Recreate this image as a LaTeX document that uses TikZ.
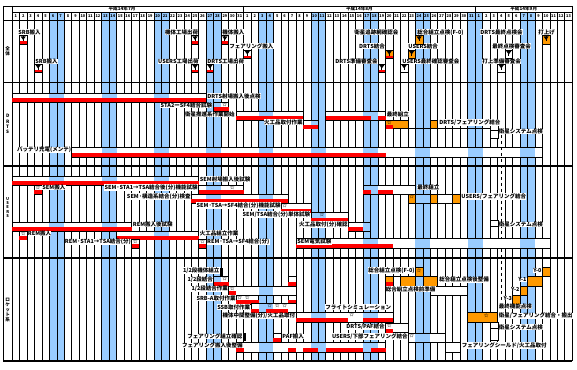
\documentclass[tikz,border=0pt]{standalone}
\usepackage{fontspec}
\setmainfont{Noto Sans CJK JP}
\definecolor{wkb}{RGB}{153,204,255}
\definecolor{org}{RGB}{255,153,0}
\definecolor{rd}{RGB}{255,0,0}
\newcount\stn
\newcommand\XX[1]{12+7.47*(#1)}
\newcommand\wkfill[2]{\foreach \k in {5,12,...,68}{\fill[wkb] ({\XX{\k}},#1) rectangle ({\XX{\k+2}},#2);}}
\newcommand\gbar[4]{%
  \fill[white] ({\XX{#1}},#3) rectangle ({\XX{#2}},#4);
  \begin{scope}\clip ({\XX{#1}},#3) rectangle ({\XX{#2}},#4);\wkfill{#3}{#4}\end{scope}
  \draw[ol] ({\XX{#1}},#3) rectangle ({\XX{#2}},#4);}
\newcommand\prog[3]{\fill[rd] ({\XX{#1}},{#3-3.6}) rectangle ({\XX{#2}},#3);}
\newcommand\obar[4]{\fill[org] ({\XX{#1}},#3) rectangle ({\XX{#2}},#4);\draw[ol] ({\XX{#1}},#3) rectangle ({\XX{#2}},#4);}
\newcommand\flagtri[2]{\fill[black] ({\XX{#1}+1.2},{#2+1}) -- ({\XX{#1}+6.27},{#2+1}) -- ({\XX{#1}+3.735},{#2+4.5}) -- cycle;
  \draw[black,line width=0.9pt] ({\XX{#1}+3.735},{#2+1}) -- ({\XX{#1}+3.735},{#2+6});}
\newcommand\msw[2]{\fill[white] ({\XX{#1}},#2) rectangle ({\XX{#1+1}},{#2+8.6});
  \fill[rd] ({\XX{#1}},{#2+5.6}) rectangle ({\XX{#1+1}},{#2+8.6});
  \flagtri{#1}{#2}\draw[ol] ({\XX{#1}},#2) rectangle ({\XX{#1+1}},{#2+8.6});}
\newcommand\mswn[2]{\fill[white] ({\XX{#1}},#2) rectangle ({\XX{#1+1}},{#2+8.6});
  \flagtri{#1}{#2}\draw[ol] ({\XX{#1}},#2) rectangle ({\XX{#1+1}},{#2+8.6});}
\newcommand\mso[2]{\fill[org] ({\XX{#1}},#2) rectangle ({\XX{#1+1}},{#2+8.6});
  \flagtri{#1}{#2}\draw[ol] ({\XX{#1}},#2) rectangle ({\XX{#1+1}},{#2+8.6});}
\newcommand\stc[2]{\global\advance\stn by 1\relax\node[stt] (st\the\stn) at ({\XX{#1}+3.735},#2) {☆};}
\newcommand\cellpair[2]{\filldraw[fill=white,draw=black,line width=0.6pt] (490,#1) rectangle (498,{#1+6}) (490,{#1+6}) rectangle (498,#2);}
\tikzset{
  ol/.style={draw=black,line width=0.6pt},
  grid/.style={black,line width=0.6pt},
  sepl/.style={black,line width=1.7pt},
  lbl/.style={font=\fontsize{5.5}{6}\selectfont\bfseries,inner sep=0.25pt,fill=white},
  stt/.style={font=\fontsize{4.8}{5}\selectfont\bfseries,inner sep=0pt},
  dnum/.style={font=\fontsize{3.9}{4}\selectfont\bfseries,inner sep=0pt},
  mon/.style={font=\fontsize{4.6}{5}\selectfont\bfseries,inner sep=0pt},
  sect/.style={font=\fontsize{4.6}{5.2}\selectfont\bfseries,inner sep=0pt,align=center}
}
\begin{document}
\begin{tikzpicture}[x=1pt,y=-1pt]
\useasboundingbox (0,0) rectangle (577,369);
\fill[white] (0,0) rectangle (577,369);
% weekend columns
\wkfill{12}{361}
% grid
\foreach \i in {0,...,75}{\draw[grid] ({\XX{\i}},12) -- ({\XX{\i}},361);}
\draw[grid] ({\XX{0}},6) -- ({\XX{0}},12);
\draw[grid] ({\XX{31}},6) -- ({\XX{31}},12);
\draw[grid] ({\XX{62}},6) -- ({\XX{62}},12);
\draw[grid,line width=1pt] ({\XX{75}},6) -- ({\XX{75}},361);
\draw[grid,line width=1pt] (3.3,6) -- (3.3,361);
\draw[grid] (3.3,6) -- ({\XX{75}},6);
\draw[grid] (12,12) -- ({\XX{75}},12);
\draw[grid] (3.3,20) -- ({\XX{75}},20);
\draw[sepl] (3.3,82.5) -- ({\XX{75}},82.5);
\draw[sepl] (3.3,166) -- ({\XX{75}},166);
\draw[sepl] (3.3,258) -- ({\XX{75}},258);
\draw[sepl] (3.3,361) -- ({\XX{75}},361);
% header
\node[mon] (m7) at (122,9) {平成14年7月};
\node[mon] (m8) at (359.4,9) {平成14年8月};
\node[mon] (m9) at (523.7,9) {平成14年9月};
\foreach \d in {1,...,31}{\node[dnum] (ja\d) at ({\XX{\d-1}+3.735},16.2) {\d};}
\foreach \d in {1,...,31}{\node[dnum] (au\d) at ({\XX{\d+30}+3.735},16.2) {\d};}
\foreach \d in {1,...,13}{\node[dnum] (se\d) at ({\XX{\d+61}+3.735},16.2) {\d};}
% section labels
\node[sect] (sz) at (7.7,51) {全\\体};
\node[sect] (sd) at (7.7,124) {D\\R\\T\\S};
\node[sect,font=\fontsize{4}{4.4}\selectfont\bfseries] (su) at (7.7,207.5) {U\\S\\E\\R\\S};
\node[sect] (sr) at (7.7,310) {ロ\\ケ\\ッ\\ト\\系};

% ================= DRTS bars
\gbar{0}{26}{93.5}{102}\prog{0}{26}{102}
\gbar{27}{29}{102}{111}\prog{27}{29}{111}\stc{28}{104.5}
\gbar{30}{39}{111}{120}\prog{30}{39}{120}
\gbar{39}{41}{120}{128.5}\prog{39}{41}{128.5}
\gbar{42}{50}{111}{120}\prog{42}{48}{120}\prog{49}{50}{120}
\draw[ol] ({\XX{50}},128.5) -- (490,128.5);
\obar{50}{53}{120}{128.5}\prog{50}{51}{128.5}\stc{50}{122.6}
\obar{56}{57}{120}{128.5}
\cellpair{124}{138}
\gbar{8}{71}{147}{157}\prog{8}{50}{157}
\draw[black,dashed,line width=0.8pt] (501.5,135) -- (501.5,300);

% ================= USERS bars
\gbar{0}{25}{176}{185}\prog{0}{25}{185}
\gbar{3}{4}{185}{194}\prog{3}{4}{194}\stc{3}{187.5}
\gbar{25}{31}{185}{194}\prog{25}{31}{194}\stc{29}{187.5}
\gbar{24}{37}{194}{203}\prog{24}{37}{203}
\gbar{36}{40}{203}{212.5}\prog{36}{40}{212.5}\stc{36}{205.5}
\gbar{40}{45}{212.5}{222}\prog{40}{45}{222}\stc{41}{215}
\gbar{45}{48}{222}{231}\prog{45}{47}{231}
\gbar{47}{54}{185}{194}\prog{47}{48}{194}\prog{49}{51}{194}
\gbar{53}{60}{194}{203}\obar{53}{54}{194}{203}\obar{56}{57}{194}{203}\obar{59}{60}{194}{203}\stc{53}{196.6}
\cellpair{220}{238}
\gbar{0}{16}{222}{231}\prog{0}{16}{231}
\gbar{1}{2}{231}{239.5}\prog{1}{2}{239.5}\stc{1}{233.5}
\gbar{14}{25}{231}{239.5}\prog{14}{25}{239.5}
\gbar{16}{17}{239.5}{248}\prog{16}{17}{248}\stc{16}{241.6}
\gbar{25}{26}{239.5}{248}\prog{25}{26}{248}\stc{25}{241.6}
\gbar{38}{72}{238.5}{248}\prog{38}{51}{248}

% ================= Rocket bars
\fill[black] (220,268) rectangle (222.6,275.5);
\obar{54}{55}{267.5}{276.5}\stc{54}{270.2}
\obar{71}{72}{267.5}{276.5}
\gbar{27}{29}{276.5}{286}\prog{27}{29}{286}\stc{28}{278.8}
\gbar{37}{38}{276.5}{286}\prog{37}{38}{286}
\obar{50}{51}{276.5}{286}\prog{50}{51}{286}
\gbar{51}{52}{276.5}{286}
\obar{52}{54}{276.5}{286}
\obar{55}{57}{276.5}{286}
\obar{69}{71}{276.5}{286}
\gbar{29}{38}{286}{295}\prog{29}{30}{295}\stc{29}{288.6}
\gbar{56}{61}{286}{295}
\obar{68}{69}{286}{295}
\gbar{30}{33}{295}{304}\prog{30}{33}{304}\stc{30}{297.6}\stc{31}{297.6}
\gbar{37}{38}{295}{304}\prog{37}{38}{304}
\obar{67}{68}{295}{304}
\gbar{32}{38}{303.5}{312.5}\prog{32}{33}{312.5}\prog{34}{37}{312.5}\stc{34}{306}\stc{35}{306}\stc{36}{306}
\gbar{38}{51}{312.5}{322}\prog{38}{45}{322}\prog{47}{51}{322}\stc{45}{315}
\obar{61}{65}{312.5}{322}\stc{63}{315.5}
\gbar{50}{53}{323}{332.5}\prog{50}{51}{332.5}\stc{50}{325.6}
\cellpair{322}{340}
\fill[black] (243,333) rectangle (245.6,341);
\gbar{35}{36}{333}{342}\prog{35}{36}{342}
\gbar{53}{58}{333}{342}\stc{53}{335.6}
\gbar{30}{50}{342}{352}\prog{30}{31}{352}\prog{37}{38}{352}\prog{39}{41}{352}\prog{42}{47}{352}\prog{48}{50}{352}
\gbar{58}{60}{342}{352}

% ================= labels: overall
\node[lbl,anchor=west] (a1) at (18,32.3) {SRB搬入};
\node[lbl,anchor=east] (a2) at (198.5,32.3) {機体工場出荷};
\node[lbl,anchor=west] (a3) at (222,32.3) {機体搬入};
\node[lbl,anchor=west] (a4) at (354,32.3) {衛星追跡網確認会};
\node[lbl,anchor=west] (a5) at (417,32.3) {総合組立点検(F-0)};
\node[lbl,anchor=west] (a6) at (480,32.3) {DRTS最終点検会};
\node[lbl,anchor=west] (a7) at (538,32.3) {打上げ};
\node[lbl,anchor=west] (a8) at (229,46.2) {フェアリング搬入};
\node[lbl,anchor=east] (a9) at (385.3,46.2) {DRTS結合};
\node[lbl,anchor=west] (a10) at (408,46.2) {USERS結合};
\node[lbl,anchor=west] (a11) at (492,46.2) {最終点検審査会};
\node[lbl,anchor=west] (a12) at (35,61.5) {SRB搬入};
\node[lbl,anchor=east] (a13) at (199,61.5) {USERS工場出荷};
\node[lbl,anchor=west] (a14) at (207,61.5) {DRTS工場出荷};
\node[lbl,anchor=east] (a15) at (378,61.5) {DRTS準備審査会};
\node[lbl,anchor=west] (a16) at (402,61.5) {USERS最終確認審査会};
\node[lbl,anchor=west] (a17) at (482,61.5) {打上準備審査会};
% markers overall
\msw{1}{35.5}\msw{24}{35.5}\msw{28}{35.5}\mso{54}{35.5}\mso{71}{35.5}
\msw{31}{50}\mso{50}{50}\fill[rd] ({\XX{50}},55.6) rectangle ({\XX{51}},58.6);\draw[ol] ({\XX{50}},50) rectangle ({\XX{51}},58.6);
\mso{53}{50}\mswn{66}{50}
\msw{3}{64}\msw{24}{64}\msw{26}{64}\msw{49}{64}\mswn{52}{64}\mswn{65}{64}

% ================= labels: DRTS
\node[lbl,anchor=west] (b1) at (207,96) {DRTS射場搬入後点検};
\node[lbl,anchor=east] (b2) at (212.5,105.5) {STA2ーSF4結合試験};
\node[lbl,anchor=east] (b3) at (235,114.5) {衛星推進系作業開始};
\node[lbl,anchor=east] (b4) at (303,122) {火工品取付作業};
\node[lbl,anchor=west] (b5) at (386.5,114.2) {最終組立};
\node[lbl,anchor=west] (b6) at (439,122.5) {DRTS/フェアリング結合};
\node[lbl,anchor=west] (b7) at (498.5,131.5) {衛星システム点検};
\node[lbl,anchor=east] (b8) at (71.5,149.8) {バッテリ充電(メンテ)};

% ================= labels: USERS
\node[lbl,anchor=west] (c1) at (199.5,179) {SEM射場搬入後試験};
\node[lbl,anchor=west] (c2) at (42,187.5) {SEM搬入};
\node[lbl,anchor=east] (c3) at (198,187.5) {SEM·STA1→TSA結合後(分)機能試験};
\node[lbl,anchor=east] (c4) at (191,196.5) {SEM·構造系結合(分)検査};
\node[lbl,anchor=east] (c5) at (281,205.5) {SEM·TSA→SF4結合(分)機能試験};
\node[lbl,anchor=east] (c6) at (310.5,214.5) {SEM/TSA結合(分)単体試験};
\node[lbl,anchor=east] (c7) at (348,224.5) {火工品取付(分)確認};
\node[lbl,anchor=west] (c8) at (417,187.5) {最終組立};
\node[lbl,anchor=west] (c9) at (461,196.5) {USERS/フェアリング結合};
\node[lbl,anchor=west] (c10) at (498.5,224.5) {衛星システム点検};
\node[lbl,anchor=west] (c11) at (132.5,224.5) {REM搬入後試験};
\node[lbl,anchor=west] (c12) at (27.5,233.5) {REM搬入};
\node[lbl,anchor=west] (c13) at (199.5,233.2) {火工品組立作業};
\node[lbl,anchor=east] (c14) at (131.3,241.8) {REM·STA1→TSA結合(分)};
\node[lbl,anchor=west] (c15) at (206.7,241.8) {REM·TSA→SF4結合(分)};
\node[lbl,anchor=west] (c16) at (297,241.8) {SEM電気試験};

% ================= labels: rocket
\node[lbl,anchor=east] (d1) at (219.8,270.5) {1/2段機体組立};
\node[lbl,anchor=east] (d2) at (415,270.5) {総合組立点検(F-0)};
\node[lbl,anchor=east] (d3) at (542,270.5) {Y-0};
\node[lbl,anchor=east] (d4) at (213.3,280) {1/2段結合};
\node[lbl,anchor=west] (d5) at (439,279.8) {総合組立点検後整備};
\node[lbl,anchor=east] (d6) at (527,279.8) {Y-1};
\node[lbl,anchor=east] (d7) at (228.3,289) {1/2段結合作業};
\node[lbl,anchor=west] (d8) at (385.5,289) {総合組立点検前準備};
\node[lbl,anchor=east] (d9) at (520,289) {Y-2};
\node[lbl,anchor=east] (d10) at (236,298) {SRB-A取付作業};
\node[lbl,anchor=east] (d11) at (512.5,298) {Y-3};
\node[lbl,anchor=east] (d12) at (250.5,307) {SSB取付作業};
\node[lbl,anchor=west] (d13) at (325,307) {フライトシミュレーション};
\node[lbl,anchor=west] (d14) at (498.5,306.5) {最終機能点検};
\node[lbl,anchor=east] (d15) at (295.5,315.8) {機体中間整備(分)/火工品取付};
\node[lbl,anchor=west] (d16) at (498.5,315.8) {衛星/フェアリング結合・搬出};
\node[lbl,anchor=east] (d17) at (385,327) {DRTS/PAF結合};
\node[lbl,anchor=west] (d18) at (498.5,327) {衛星システム点検};
\node[lbl,anchor=east] (d19) at (242.8,336.5) {フェアリング組立確認};
\node[lbl,anchor=west] (d20) at (282,336.5) {PAF搬入};
\node[lbl,anchor=east] (d21) at (408,336.5) {USERS/下部フェアリング結合};
\node[lbl,anchor=east] (d22) at (243,345.5) {フェアリング搬入後整備};
\node[lbl,anchor=west] (d23) at (461.5,345.5) {フェアリングシールド/火工品取付};
\end{tikzpicture}
\end{document}
